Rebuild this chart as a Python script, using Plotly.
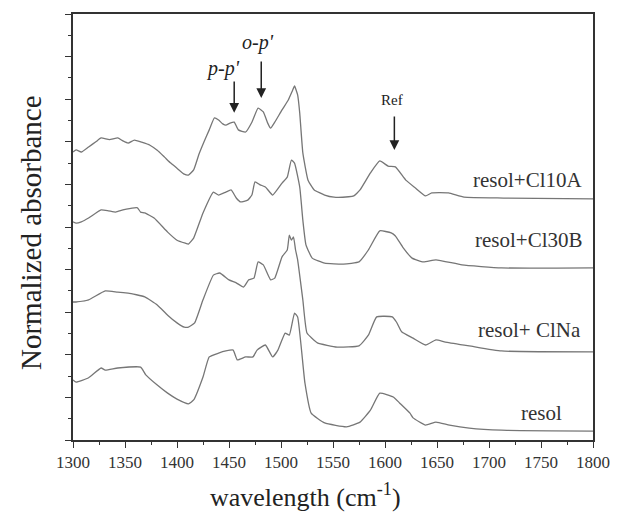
import plotly.graph_objects as go

# wavelength (cm-1) and normalized absorbance (arbitrary units, stacked)
w_cl10a = [1300, 1303, 1308, 1315, 1322, 1327, 1335, 1343, 1348, 1353, 1359, 1366, 1374, 1381, 1388, 1394,
           1400, 1407, 1411, 1416, 1421, 1426, 1431, 1436, 1440, 1444, 1447, 1451, 1455, 1459, 1466, 1472,
           1478, 1483, 1487, 1490, 1494, 1501, 1507, 1511, 1513, 1516, 1518, 1521, 1526, 1532, 1542, 1551,
           1565, 1570, 1576, 1586, 1595, 1603, 1610, 1620, 1629, 1639, 1645, 1661, 1676, 1714, 1800]
a_cl10a = [6.76, 6.81, 6.76, 6.88, 7.00, 7.09, 7.05, 7.09, 7.02, 6.97, 7.04, 6.99, 6.92, 6.80, 6.64, 6.50,
           6.38, 6.24, 6.22, 6.34, 6.70, 7.00, 7.28, 7.56, 7.51, 7.42, 7.39, 7.44, 7.46, 7.28, 7.23, 7.46,
           7.79, 7.70, 7.45, 7.32, 7.46, 7.75, 7.98, 8.20, 8.31, 8.10, 7.68, 6.74, 6.10, 5.87, 5.75, 5.70,
           5.71, 5.73, 5.87, 6.27, 6.55, 6.43, 6.41, 6.10, 5.92, 5.73, 5.80, 5.80, 5.70, 5.68, 5.66]

w_cl30b = [1300, 1303, 1308, 1315, 1327, 1334, 1341, 1348, 1359, 1362, 1365, 1369, 1378, 1391, 1400, 1408,
           1411, 1416, 1425, 1435, 1440, 1447, 1452, 1457, 1461, 1468, 1472, 1475, 1480, 1485, 1492, 1501,
           1506, 1510, 1513, 1518, 1521, 1524, 1530, 1542, 1560, 1575, 1584, 1595, 1606, 1610, 1617, 1626,
           1637, 1649, 1674, 1712, 1800]
a_cl30b = [5.12, 5.09, 5.12, 5.21, 5.40, 5.38, 5.35, 5.40, 5.45, 5.45, 5.35, 5.33, 5.21, 4.88, 4.69, 4.62,
           4.60, 4.74, 5.33, 5.82, 5.75, 5.82, 5.87, 5.68, 5.59, 5.63, 5.75, 6.06, 5.99, 5.94, 5.75, 6.03,
           6.17, 6.57, 6.50, 5.94, 5.16, 4.58, 4.27, 4.15, 4.13, 4.18, 4.46, 4.91, 4.86, 4.79, 4.53, 4.27,
           4.18, 4.23, 4.11, 4.04, 4.04]

w_clna = [1300, 1303, 1315, 1331, 1343, 1353, 1369, 1381, 1391, 1400, 1407, 1411, 1417, 1425, 1435, 1441,
          1450, 1457, 1464, 1469, 1474, 1478, 1483, 1490, 1494, 1501, 1506, 1508, 1510, 1512, 1514, 1516,
          1521, 1525, 1535, 1554, 1575, 1584, 1592, 1607, 1611, 1616, 1627, 1639, 1649, 1658, 1681, 1712, 1800]
a_clna = [3.24, 3.24, 3.29, 3.50, 3.47, 3.45, 3.36, 3.17, 2.93, 2.75, 2.65, 2.65, 2.75, 3.29, 3.87, 3.92,
          3.76, 3.69, 3.59, 3.76, 3.80, 4.18, 4.11, 3.76, 3.80, 4.30, 4.46, 4.81, 4.69, 4.77, 4.46, 4.23,
          3.29, 2.51, 2.28, 2.18, 2.21, 2.46, 2.89, 2.89, 2.77, 2.54, 2.39, 2.23, 2.35, 2.30, 2.21, 2.09, 2.07]

w_resol = [1300, 1303, 1315, 1327, 1331, 1343, 1365, 1370, 1381, 1391, 1400, 1411, 1416, 1425, 1431, 1440,
           1447, 1454, 1458, 1466, 1473, 1477, 1485, 1492, 1497, 1504, 1508, 1513, 1516, 1523, 1529, 1542,
           1563, 1576, 1586, 1595, 1608, 1614, 1624, 1627, 1639, 1649, 1662, 1681, 1712, 1800]
a_resol = [1.41, 1.36, 1.46, 1.69, 1.64, 1.69, 1.71, 1.53, 1.29, 1.10, 0.96, 0.85, 0.94, 1.48, 1.95, 2.04,
           2.09, 2.11, 1.88, 1.95, 1.95, 2.11, 2.23, 1.95, 2.11, 2.51, 2.46, 2.98, 2.89, 1.34, 0.63, 0.40,
           0.31, 0.42, 0.70, 1.10, 1.01, 0.87, 0.63, 0.52, 0.35, 0.42, 0.35, 0.28, 0.23, 0.21]

series_names = ["resol+Cl10A", "resol+Cl30B", "resol+ ClNa", "resol"]
series_w = [w_cl10a, w_cl30b, w_clna, w_resol]
series_a = [a_cl10a, a_cl30b, a_clna, a_resol]
label_pos = [(1792, 6.10), (1792, 4.69), (1790, 2.58), (1772, 0.63)]

x_ticks = [1300, 1350, 1400, 1450, 1500, 1550, 1600, 1650, 1700, 1750, 1800]

SERIF = "Liberation Serif, Times New Roman, serif"

fig = go.Figure()
for name, w, a in zip(series_names, series_w, series_a):
    fig.add_trace(go.Scatter(x=w, y=a, mode="lines", name=name,
                             line=dict(color="#767676", width=1.3, shape="spline", smoothing=0.4),
                             showlegend=False))

for name, (lx, ly) in zip(series_names, label_pos):
    fig.add_annotation(x=lx, y=ly, text=name, showarrow=False, xanchor="right", yanchor="middle",
                       font=dict(family=SERIF, size=21, color="#333333"))

# peak markers
peaks = [
    ("<i>p-p'</i>", 1455, 7.68, 8.45, 1444, 8.72, 20),
    ("<i>o-p'</i>", 1481, 8.03, 8.92, 1478, 9.33, 20),
    ("Ref", 1609, 6.81, 7.63, 1607, 7.99, 15),
]
for txt, ax_x, tip, tail, tx, ty, fs in peaks:
    fig.add_annotation(x=ax_x, y=tip, ax=ax_x, ay=tail, axref="x", ayref="y", xref="x", yref="y",
                       text="", showarrow=True, arrowhead=2, arrowsize=1.3, arrowwidth=1.5,
                       arrowcolor="#222222")
    fig.add_annotation(x=tx, y=ty, text=txt, showarrow=False, xanchor="center", yanchor="middle",
                       font=dict(family=SERIF, size=fs, color="#222222"))

fig.add_annotation(x=0.448, y=-0.13, xref="paper", yref="paper", text="wavelength (cm<sup>-1</sup>)",
                   showarrow=False, xanchor="center", yanchor="middle",
                   font=dict(family=SERIF, size=26, color="#222222"))
fig.add_annotation(x=-0.081, y=0.488, xref="paper", yref="paper", text="Normalized absorbance",
                   showarrow=False, textangle=-90, xanchor="center", yanchor="middle",
                   font=dict(family=SERIF, size=29, color="#222222"))

fig.update_layout(
    width=622, height=521,
    margin=dict(l=73, r=18, t=14, b=81),
    paper_bgcolor="white", plot_bgcolor="white",
    xaxis=dict(range=[1300, 1800], tickvals=x_ticks, ticks="outside", ticklen=6, tickwidth=1.3,
               tickcolor="#333", showline=True, linecolor="#333", linewidth=1.5, mirror=True,
               showgrid=False, zeroline=False,
               tickfont=dict(family=SERIF, size=17, color="#333"),
               minor=dict(dtick=25, ticks="outside", ticklen=3, tickcolor="#333", showgrid=False)),
    yaxis=dict(range=[0, 10], dtick=1, ticks="outside", ticklen=6, tickwidth=1.3, tickcolor="#333",
               showticklabels=False, showline=True, linecolor="#333", linewidth=1.5, mirror=True,
               showgrid=False, zeroline=False,
               minor=dict(dtick=0.5, ticks="outside", ticklen=3, tickcolor="#333", showgrid=False)),
)

fig.write_html("out.html")
